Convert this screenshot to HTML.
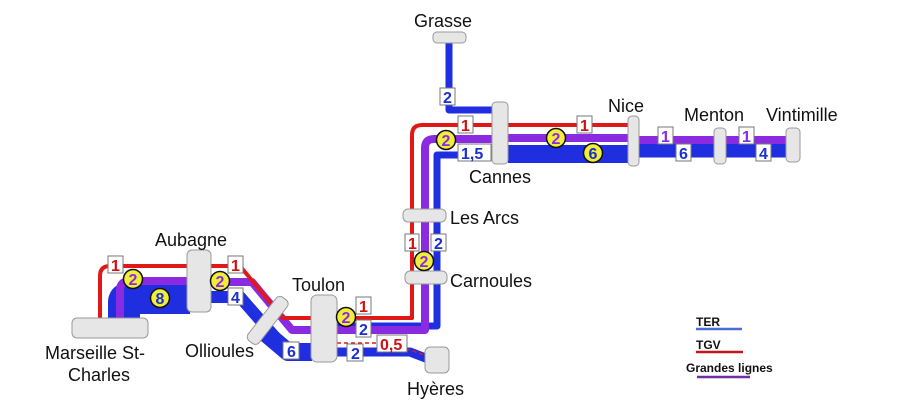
<!DOCTYPE html>
<html><head><meta charset="utf-8"><style>
html,body{margin:0;padding:0;background:#fff;}
svg{display:block;font-family:"Liberation Sans",sans-serif;}
.st{fill:#e6e6e6;stroke:#9a9a9a;stroke-width:1}
.lbl{font-size:18px;fill:#111}
.nb{fill:#fff;stroke:#777;stroke-width:1}
.nr{fill:#d01010;font-size:16px;font-weight:bold}
.nbl{fill:#1a2fd0;font-size:16px;font-weight:bold}
.np{fill:#8a2be2;font-size:16px;font-weight:bold}
</style></head><body>
<svg width="902" height="404" viewBox="0 0 902 404">
<g fill="none" stroke="#1f2fe0" stroke-linejoin="round">
<path d="M124 320 V302 Q124 298 130 298 H190" stroke-width="32"/>
<path d="M210 297 H240 L288 352 H312" stroke-width="12"/>
<path d="M262 330 L288 352 H312" stroke-width="18"/>
<path d="M337 326 H437 V155 H493" stroke-width="7"/>
<path d="M337 352 H410 L436 362" stroke-width="9"/>
<path d="M449 42 V110 H493" stroke-width="7"/>
<path d="M508 154 H628" stroke-width="18"/>
<path d="M638 150 H790" stroke-width="15"/>
</g>
<g fill="none" stroke="#8a2be2" stroke-width="8" stroke-linejoin="round">
<path d="M120 320 V290 Q120 281 130 281 H190"/>
<path d="M210 282 H252 L292 330 H312"/>
<path d="M337 330 H425 V148 Q425 139 434 139 H493"/>
<path d="M508 138 H628"/>
<path d="M638 140 H790"/>
</g>
<g fill="none" stroke="#e01818" stroke-width="4" stroke-linejoin="round">
<path d="M100 320 V276 Q100 266 110 266 H190"/>
<path d="M210 266 H240 L283 318 H312"/>
<path d="M337 318 H412 V135 Q412 125 422 125 H493"/>
<path d="M508 125 H628"/>
<path d="M337 343 H390 L430 357" stroke-width="1.5" stroke-dasharray="4,3"/>
</g>
<g>
<rect class="st" x="72" y="318" width="76" height="20" rx="5"/>
<rect class="st" x="187" y="250" width="24" height="62" rx="5"/>
<rect class="st" x="261" y="293" width="14" height="55" rx="5" transform="rotate(38 268 320)"/>
<rect class="st" x="311" y="295" width="26" height="67" rx="6"/>
<rect class="st" x="425" y="347" width="24" height="26" rx="5"/>
<rect class="st" x="403" y="209" width="43" height="13" rx="5"/>
<rect class="st" x="405" y="271" width="42" height="13" rx="5"/>
<rect class="st" x="433" y="32" width="33" height="11" rx="4"/>
<rect class="st" x="492" y="102" width="16" height="62" rx="4"/>
<rect class="st" x="628" y="116" width="11" height="50" rx="4"/>
<rect class="st" x="714" y="128" width="12" height="36" rx="4"/>
<rect class="st" x="786" y="128" width="14" height="34" rx="4"/>
</g>
<g>
<text class="lbl" x="414" y="27">Grasse</text>
<text class="lbl" x="608" y="112">Nice</text>
<text class="lbl" x="684" y="121">Menton</text>
<text class="lbl" x="766" y="121">Vintimille</text>
<text class="lbl" x="469" y="183">Cannes</text>
<text class="lbl" x="450" y="224">Les Arcs</text>
<text class="lbl" x="450" y="287">Carnoules</text>
<text class="lbl" x="155" y="246">Aubagne</text>
<text class="lbl" x="292" y="291">Toulon</text>
<text class="lbl" x="185" y="357">Ollioules</text>
<text class="lbl" x="45" y="359">Marseille St-</text>
<text class="lbl" x="68" y="381">Charles</text>
<text class="lbl" x="407" y="395">Hyères</text>
</g>
<g>
<rect class="nb" x="108" y="256" width="15" height="17"/><text class="nr" x="111" y="271">1</text>
<rect class="nb" x="228" y="256" width="15" height="17"/><text class="nr" x="231" y="271">1</text>
<rect class="nb" x="228" y="288" width="15" height="17"/><text class="nbl" x="231" y="303">4</text>
<rect class="nb" x="356" y="297" width="15" height="17"/><text class="nr" x="359" y="312">1</text>
<rect class="nb" x="356" y="320" width="15" height="17"/><text class="nbl" x="359" y="335">2</text>
<rect class="nb" x="283" y="342" width="16" height="17"/><text class="nbl" x="287" y="357">6</text>
<rect class="nb" x="347" y="344" width="16" height="17"/><text class="nbl" x="351" y="359">2</text>
<rect class="nb" x="377" y="335" width="30" height="17"/><text class="nr" x="380" y="350">0,5</text>
<rect class="nb" x="405" y="234" width="14" height="17"/><text class="nr" x="408" y="249">1</text>
<rect class="nb" x="431" y="234" width="15" height="17"/><text class="nbl" x="434" y="249">2</text>
<rect class="nb" x="440" y="88" width="15" height="17"/><text class="nbl" x="443" y="103">2</text>
<rect class="nb" x="458" y="116" width="15" height="17"/><text class="nr" x="461" y="131">1</text>
<rect class="nb" x="458" y="144" width="33" height="17"/><text class="nbl" x="461" y="159">1,5</text>
<rect class="nb" x="577" y="116" width="15" height="17"/><text class="nr" x="580" y="131">1</text>
<rect class="nb" x="658" y="127" width="15" height="17"/><text class="np" x="661" y="142">1</text>
<rect class="nb" x="676" y="144" width="15" height="17"/><text class="nbl" x="679" y="159">6</text>
<rect class="nb" x="739" y="127" width="15" height="17"/><text class="np" x="742" y="142">1</text>
<rect class="nb" x="756" y="144" width="15" height="17"/><text class="nbl" x="759" y="159">4</text>
</g>
<g stroke="#111" stroke-width="1.5" fill="#f0ee3a">
<circle cx="133" cy="279" r="9.5"/><circle cx="220" cy="281" r="9.5"/><circle cx="346" cy="317" r="9.5"/>
<circle cx="424" cy="261" r="9.5"/><circle cx="446" cy="140" r="9.5"/><circle cx="556" cy="138" r="9.5"/>
<circle cx="160" cy="298" r="9.5"/><circle cx="593" cy="153" r="9.5"/>
</g>
<g>
<text class="np" x="128.5" y="285">2</text><text class="np" x="215.5" y="287">2</text><text class="np" x="341.5" y="323">2</text>
<text class="np" x="419.5" y="267">2</text><text class="np" x="441.5" y="146">2</text><text class="np" x="551.5" y="144">2</text>
<text class="nbl" x="155.5" y="304">8</text><text class="nbl" x="588.5" y="159">6</text>
</g>
<g font-weight="bold" font-size="12" fill="#111">
<text x="696" y="326">TER</text><line x1="696" y1="329" x2="742" y2="329" stroke="#4a6fd0" stroke-width="2.5"/>
<text x="696" y="349">TGV</text><line x1="696" y1="352" x2="743" y2="352" stroke="#c01818" stroke-width="2.5"/>
<text x="686" y="372">Grandes lignes</text><line x1="697" y1="377" x2="750" y2="377" stroke="#7030a0" stroke-width="2.5"/>
</g>
</svg>
</body></html>
